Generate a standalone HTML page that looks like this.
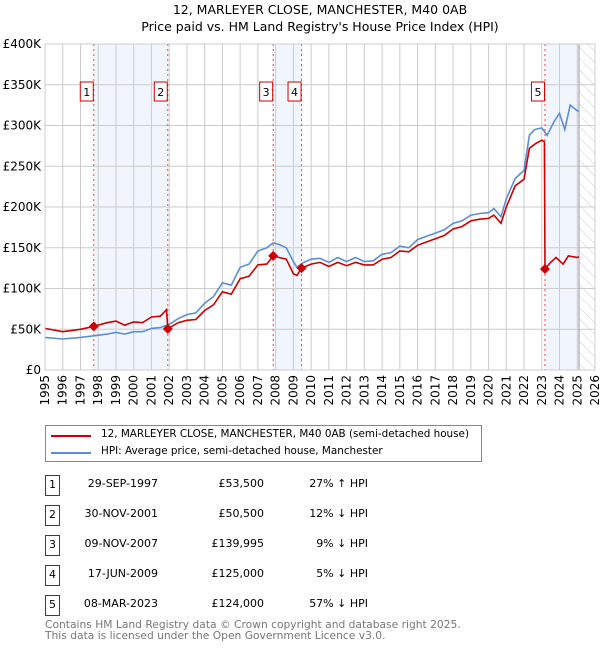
<!DOCTYPE html>
<html><head><meta charset="utf-8"><style>
body{margin:0;background:#fff;font-family:"Liberation Sans","DejaVu Sans",sans-serif;}
#wrap{position:relative;width:600px;height:650px;overflow:hidden}
.t{position:absolute;font-size:12px;color:#000;white-space:nowrap}
</style></head><body><div id="wrap">
<svg id="chart" width="600" height="420" style="position:absolute;left:0;top:0">
<defs><pattern id="hatch" width="8" height="8" patternUnits="userSpaceOnUse" patternTransform="rotate(-45)"><line x1="0" y1="0" x2="0" y2="8" stroke="#ccc" stroke-width="1"/></pattern></defs>
<text x="320" y="14" text-anchor="middle" font-size="12.5" font-family="DejaVu Sans,sans-serif">12, MARLEYER CLOSE, MANCHESTER, M40 0AB</text>
<text x="320" y="31" text-anchor="middle" font-size="12.5" font-family="DejaVu Sans,sans-serif">Price paid vs. HM Land Registry's House Price Index (HPI)</text>
<g id="g"></g>
</svg>
<div style="position:absolute;left:45px;top:425px;width:435px;height:35px;border:1px solid #888;">
<div style="position:absolute;left:5px;top:9px;width:40px;height:2px;background:#cc0000"></div>
<div class="t" style="left:55px;top:2px;font-family:'DejaVu Sans',sans-serif;font-size:10.4px">12, MARLEYER CLOSE, MANCHESTER, M40 0AB (semi-detached house)</div>
<div style="position:absolute;left:5px;top:26px;width:40px;height:2px;background:#5b8fd4"></div>
<div class="t" style="left:55px;top:19px;font-family:'DejaVu Sans',sans-serif;font-size:10.4px">HPI: Average price, semi-detached house, Manchester</div>
</div>
<div id="tbl"></div>
<div class="t" style="left:45px;top:620px;color:#777;font-family:'DejaVu Sans',sans-serif;font-size:10.7px;line-height:10.5px">Contains HM Land Registry data © Crown copyright and database right 2025.<br>This data is licensed under the Open Government Licence v3.0.</div>
</div>
<script>
const hpiDates=[1995,1996,1997,1997.75,1998.5,1999,1999.5,2000,2000.5,2001,2001.5,2002,2002.5,2003,2003.5,2004,2004.5,2005,2005.5,2006,2006.5,2007,2007.5,2007.86,2008.2,2008.6,2009,2009.2,2009.5,2010,2010.5,2011,2011.5,2012,2012.5,2013,2013.5,2014,2014.5,2015,2015.5,2016,2016.5,2017,2017.5,2018,2018.5,2019,2019.5,2020,2020.3,2020.7,2021,2021.5,2022,2022.3,2022.6,2023,2023.3,2023.7,2024,2024.3,2024.6,2025,2025.1];
const hpiValues=[40,38,40,42,44,46,44,47,47,51,52,56,63,68,70,82,90,107,104,126,130,146,150,156,154,150,133,126,131,136,137,132,138,133,138,133,134,142,144,152,150,160,164,168,172,180,183,190,192,193,198,188,210,235,245,288,295,297,288,305,315,295,325,318,318];
const priceDates=[1995,1996,1997,1997.75,1998.5,1999,1999.5,2000,2000.5,2001,2001.5,2001.85,2001.92,2002.5,2003,2003.5,2004,2004.5,2005,2005.5,2006,2006.5,2007,2007.5,2007.86,2008.2,2008.6,2009,2009.2,2009.46,2010,2010.5,2011,2011.5,2012,2012.5,2013,2013.5,2014,2014.5,2015,2015.5,2016,2016.5,2017,2017.5,2018,2018.5,2019,2019.5,2020,2020.3,2020.7,2021,2021.5,2022,2022.3,2022.6,2023,2023.15,2023.18,2023.5,2023.8,2024.2,2024.5,2025,2025.1];
const priceValues=[51,47,50,53.5,58,60,55,59,58,65,66,74,50.5,58,61,62,73,80,96,93,112,115,129,130,140,138,136,118,116,125,130,132,127,132,128,132,129,129,136,138,146,145,153,157,161,165,173,176,183,185,186,190,180,200,226,234,272,277,282,280,124,132,138,130,140,138,139];
const saleLabels=["1","2","3","4","5"];
const saleDates=[1997.75,2001.92,2007.86,2009.46,2023.18];
const salePrices=[53.5,50.5,139.995,125,124];
const saleDateText=["29-SEP-1997","30-NOV-2001","09-NOV-2007","17-JUN-2009","08-MAR-2023"];
const salePriceText=["£53,500","£50,500","£139,995","£125,000","£124,000"];
const saleHpiText=["27% ↑ HPI","12% ↓ HPI","9% ↓ HPI","5% ↓ HPI","57% ↓ HPI"];
const yTicks=[0,50,100,150,200,250,300,350,400];
const dataEnd=2025.1;
const X0=45,X1=595,Y0=370,Y1=44;
const x=d=>X0+(d-1995)*(X1-X0)/31;
const y=v=>Y0-v*(Y0-Y1)/400;
const ns="http://www.w3.org/2000/svg",g=document.getElementById('g');
function mk(t,a,p){const e=document.createElementNS(ns,t);for(const k in a)e.setAttribute(k,a[k]);(p||g).appendChild(e);return e;}
[[0,1],[2,3]].forEach(([a,b],i)=>{const r=mk('rect',{x:x(saleDates[a]),y:Y1,width:x(saleDates[b])-x(saleDates[a]),height:Y0-Y1,fill:'#eef3fc',opacity:0.8});

});
{const r=mk('rect',{x:x(saleDates[4]),y:Y1,width:x(dataEnd)-x(saleDates[4]),height:Y0-Y1,fill:'#eef3fc',opacity:0.8});

}
{const r=mk('rect',{x:x(dataEnd),y:Y1,width:X1-x(dataEnd),height:Y0-Y1,fill:'url(#hatch)'});

}
for(let yr=1995;yr<=2026;yr++){const l=mk('line',{x1:x(yr),x2:x(yr),y1:Y1,y2:Y0,stroke:'#ccc'});


const t=mk('text',{x:0,y:0,transform:`translate(${x(yr)+4},${Y0+5}) rotate(-90)`,'text-anchor':'end','font-size':12,'font-family':'DejaVu Sans,sans-serif'});t.textContent=yr;

}
yTicks.forEach(v=>{const l=mk('line',{x1:X0,x2:X1,y1:y(v),y2:y(v),stroke:'#ccc'});


const t=mk('text',{x:X0-4,y:y(v)+4,'text-anchor':'end','font-size':12,'font-family':'DejaVu Sans,sans-serif'});t.textContent=v===0?'£0':'£'+v+'K';

});
{const l=mk('line',{x1:x(dataEnd),x2:x(dataEnd),y1:Y1,y2:Y0,stroke:'#999'});

}
saleDates.forEach(d=>{const l=mk('line',{x1:x(d),x2:x(d),y1:Y1,y2:Y0,stroke:'#ee4444','stroke-dasharray':'2,3','stroke-width':1});

});
function pts(ds,vs){return ds.map((d,i)=>x(d).toFixed(1)+','+y(vs[i]).toFixed(1)).join(' ');}
{const p=mk('polyline',{points:pts(hpiDates,hpiValues),fill:'none',stroke:'#5b8fd4','stroke-width':1.6});

}
{const p=mk('polyline',{points:pts(priceDates,priceValues),fill:'none',stroke:'#cc0000','stroke-width':1.6});

}
saleDates.forEach((d,i)=>{const cx=x(d),cy=y(salePrices[i]);
const p=mk('polygon',{points:`${cx},${cy-5} ${cx+5},${cy} ${cx},${cy+5} ${cx-5},${cy}`,fill:'#cc0000'});


const r=mk('rect',{x:cx-13.5,y:82,width:13,height:19,fill:'#fff',stroke:'#cc0000'});


const t=mk('text',{x:cx-7,y:96,'text-anchor':'middle','font-size':11,'font-family':'DejaVu Sans,sans-serif'});t.textContent=saleLabels[i];

});
{const r=mk('rect',{x:X0,y:Y1,width:X1-X0,height:Y0-Y1,fill:'none',stroke:'#ccc'});

}
const tbl=document.getElementById('tbl');
saleLabels.forEach((s,i)=>{const top=475+i*30;
const row=document.createElement('div');


row.style.cssText=`position:absolute;left:0;top:${top}px;width:600px;height:21px;font-family:'DejaVu Sans',sans-serif;font-size:11px`;
row.innerHTML=`<div style="position:absolute;left:45px;top:0;width:13px;height:19px;border:1px solid #cc0000;text-align:center;line-height:17px">${s}</div>`+
`<div style="position:absolute;right:${600-158}px;top:2px">${saleDateText[i]}</div>`+
`<div style="position:absolute;right:${600-264}px;top:2px">${salePriceText[i]}</div>`+
`<div style="position:absolute;right:${600-368}px;top:2px">${saleHpiText[i]}</div>`;
tbl.appendChild(row);});
</script>
</body></html>
